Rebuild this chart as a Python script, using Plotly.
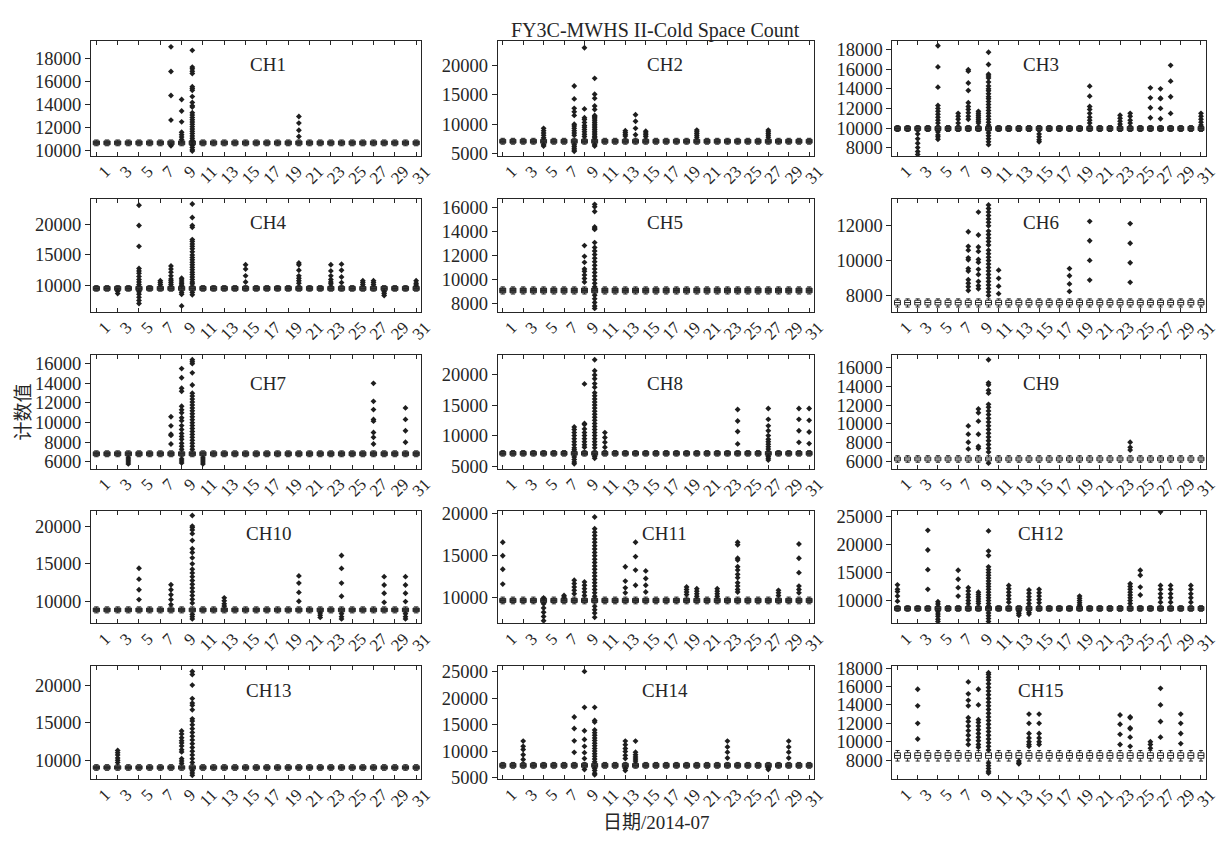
import plotly.graph_objects as go

# ---------------- data ----------------
DAYS = list(range(1, 32))
TICK_DAYS = list(range(1, 32, 2))
CHANNELS = [f"CH{i}" for i in range(1, 16)]

# per-channel box statistics (same for every day)
MEDIAN = [10700, 7100, 9950, 9550, 9100, 7590, 6830, 7100, 6250, 8900, 9700, 8600, 9000, 7300, 8500]
Q1 = [10530, 6770, 9750, 9230, 8900, 7450, 6630, 6800, 6050, 8650, 9450, 8250, 8800, 6930, 8200]
Q3 = [10870, 7430, 10150, 9870, 9300, 7720, 7030, 7400, 6450, 9150, 9950, 8950, 9250, 7670, 8800]
LOWF = [10450, 6600, 9650, 9100, 8800, 7330, 6530, 6650, 5900, 8500, 9300, 8100, 8650, 6750, 7900]
UPF = [10950, 7600, 10250, 10000, 9400, 7800, 7130, 7550, 6600, 9300, 10100, 9100, 9400, 7850, 9050]
BOX_VISIBLE = [False, False, False, False, False, True, False, False, True, False, False, False, False, False, True]

Y_LO = [9570, 4600, 7150, 5750, 7320, 7060, 5330, 4625, 5230, 7120, 6990, 5960, 7480, 4690, 5940]
Y_HI = [19480, 24100, 18850, 24100, 16740, 13540, 16900, 23200, 17400, 22050, 20350, 26000, 22480, 26050, 18180]
Y_TICKS = [
    [10000, 12000, 14000, 16000, 18000],
    [5000, 10000, 15000, 20000],
    [8000, 10000, 12000, 14000, 16000, 18000],
    [10000, 15000, 20000],
    [8000, 10000, 12000, 14000, 16000],
    [8000, 10000, 12000],
    [6000, 8000, 10000, 12000, 14000, 16000],
    [5000, 10000, 15000, 20000],
    [6000, 8000, 10000, 12000, 14000, 16000],
    [10000, 15000, 20000],
    [10000, 15000, 20000],
    [10000, 15000, 20000, 25000],
    [10000, 15000, 20000],
    [5000, 10000, 15000, 20000, 25000],
    [8000, 10000, 12000, 14000, 16000, 18000],
]

# outliers per channel: {day: [values]}
OUT_CH1 = {8: [19000, 16870, 14800, 12670, 10450],
           9: [14450, 13460, 12520, 11620, 11400, 11200, 11000],
           10: [18700, 17250, 17100, 16900, 16700, 15550, 15400, 15250, 14700, 14200, 13900, 13800, 13300,
                13100, 12900, 12700, 12500, 12300, 12100, 11900, 11700, 11500, 11300, 11100, 10900, 10500,
                10300, 10100, 10000],
           20: [12980, 12410, 11790, 11250]}
OUT_CH2 = {5: [9300, 8900, 8500, 8100, 7700, 6500, 6300],
           8: [16500, 14300, 12700, 12100, 11500, 10000, 9700, 9300, 8900, 8500, 8100, 6500, 6200, 5900, 5600, 5400],
           9: [23000, 12600, 11100, 10800, 10300, 9800, 9500, 9100, 8700, 8300, 7900],
           10: [17800, 15100, 14400, 13100, 12500, 11500, 11300, 11100, 10900, 10600, 10300, 10000, 9700, 9400,
                9100, 8800, 8500, 8200, 7900, 7700, 6500, 6300],
           13: [8900, 8600, 8300, 8000], 14: [11600, 10500, 9300, 8200], 15: [8800, 8500, 8200, 7900],
           20: [9000, 8700, 8400, 8100, 7800], 27: [9000, 8700, 8400, 8100, 7800]}
OUT_CH3 = {3: [9400, 8900, 8450, 8000, 7600, 7300],
           5: [18400, 16240, 14170, 12300, 12000, 11700, 11400, 11100, 10800, 10500, 9600, 9300, 9100, 8850],
           7: [11500, 11200, 10900, 10500],
           8: [15950, 15800, 14600, 13830, 12580, 12200, 11900, 11560, 11200, 10900],
           9: [11700, 11500, 11300, 11100, 10900, 10700, 10500],
           10: [17730, 16480, 15500, 15300, 15100, 14700, 14300, 14000, 13800, 13500, 13200, 13000, 12700, 12400,
                12100, 11800, 11500, 11200, 10900, 10600, 10300, 9500, 9200, 8900, 8600, 8300],
           15: [9400, 9100, 8800, 8600],
           20: [14270, 13250, 12200, 11900, 11500, 11100, 10800, 10500],
           23: [11300, 11000, 10700, 10400], 24: [11500, 11200, 10800, 10500],
           26: [14100, 13080, 12070, 11050], 27: [14000, 13050, 13000, 12000, 10950],
           28: [16400, 14780, 13190, 11490], 31: [11500, 11200, 10900, 10600, 10300]}
OUT_CH4 = {3: [9100, 8700],
           5: [23100, 19800, 16400, 12800, 12400, 12000, 11500, 11000, 10600, 10200, 9000, 8600, 8100, 7600, 7100],
           7: [10800, 10500, 10200],
           8: [13200, 12700, 12200, 11600, 11100, 10800, 10500, 10200],
           9: [11200, 10900, 10600, 10300, 10050, 8900, 8600, 6700],
           10: [23300, 21100, 19800, 19500, 17500, 17200, 16800, 16400, 16000, 15500, 15000, 14600, 14200, 13800,
                13400, 13000, 12600, 12200, 11800, 11400, 11000, 10600, 10300, 8900, 8500],
           15: [13400, 12700, 11600, 10600],
           20: [13700, 13400, 12500, 11600, 11200, 10800, 10400],
           23: [13400, 12400, 11600, 11000, 10600, 10300],
           24: [13500, 12500, 11400, 10500],
           26: [10800, 10500, 10200], 27: [10800, 10500, 10200], 28: [9000, 8700, 8400],
           31: [10800, 10400, 10100]}
OUT_CH5 = {9: [12850, 11950, 11450, 10900, 10700, 10400, 10100, 9800],
           10: [16300, 16100, 15700, 14400, 14300, 14200, 13100, 12700, 12400, 12100, 11800, 11500, 11200, 10900,
                10600, 10300, 10000, 9700, 9400, 8700, 8400, 8100, 7800, 7600]}
OUT_CH6 = {8: [11660, 10820, 10600, 10160, 10050, 9540, 9400, 8900, 8700, 8500, 8280],
           9: [12790, 11470, 10780, 10530, 10070, 9900, 9500, 9200, 8800, 8560, 8380],
           10: [13200, 13000, 12800, 12600, 12400, 12200, 12000, 11700, 11500, 11300, 11100, 10900, 10600, 10400,
                10200, 10000, 9800, 9600, 9400, 9200, 9000, 8800, 8600, 8400, 8200, 8000],
           11: [9450, 8980, 8530, 8100], 18: [9540, 9130, 8660, 8230],
           20: [12260, 11140, 10010, 8880], 24: [12130, 11000, 9880, 8750]}
OUT_CH7 = {4: [6400, 6200, 6000, 5800],
           8: [10600, 9670, 8830, 8700, 7830],
           9: [15500, 14570, 13500, 13200, 11670, 11300, 11000, 10500, 10200, 9700, 9300, 8900, 8600, 8300, 7900,
               7600, 7300, 6300, 6100, 5900],
           10: [16400, 16200, 16000, 15070, 13830, 13000, 12700, 12400, 12100, 11800, 11500, 11200, 10900, 10600,
                10300, 10000, 9700, 9400, 9100, 8800, 8500, 8200, 7900, 7600, 7300],
           11: [6400, 6200, 6000, 5800],
           27: [14000, 12170, 11330, 10330, 10150, 9000, 8500, 7830],
           30: [11500, 10330, 9170, 8000]}
OUT_CH8 = {8: [11400, 11000, 10500, 10000, 9500, 9000, 8500, 8000, 7700, 6500, 6100, 5700, 5400],
           9: [18450, 12000, 11800, 11100, 10500, 10000, 9500, 9000, 8500, 8100],
           10: [22400, 20600, 19900, 19300, 18500, 17900, 17000, 16500, 16000, 15500, 15000, 14500, 14000, 13500,
                13000, 12500, 12000, 11500, 11000, 10500, 10000, 9500, 9000, 8500, 8000, 6600, 6300],
           11: [10500, 9700, 8900, 8100],
           24: [14270, 12390, 10680, 8640],
           27: [14430, 12660, 11600, 10800, 10000, 9400, 9000, 8600, 8200, 7800, 6600, 6300, 6000],
           30: [14430, 12660, 10800, 8900], 31: [14430, 12500, 10600, 8700]}
OUT_CH9 = {8: [9790, 8910, 8040, 7330],
           9: [11600, 11190, 10300, 8900, 7600, 7400],
           10: [16880, 14400, 14200, 13600, 13300, 12100, 11800, 11400, 11000, 10600, 10200, 9800, 9400, 9000,
                8600, 8200, 7800, 7400, 7000, 5800],
           24: [8040, 7500, 7200]}
OUT_CH10 = {5: [14410, 12970, 11570, 10260],
            8: [12230, 11570, 10900, 10260, 9600],
            10: [21400, 20000, 19800, 19500, 19000, 18100, 17000, 16500, 15800, 15000, 14300, 13800, 13300, 12800,
                 12300, 11800, 11300, 10800, 10300, 9800, 8300, 8000, 7700],
            13: [10500, 10100, 9700, 9400],
            20: [13400, 12450, 11220, 10040],
            22: [8500, 8200, 7900],
            24: [16100, 14400, 12450, 10700, 8400, 8000, 7700],
            28: [13300, 12200, 11100, 9900],
            30: [13300, 12200, 11100, 10000, 8400, 8000, 7700]}
OUT_CH11 = {1: [16600, 15000, 13400, 11640],
            5: [10000, 9300, 8800, 8300, 7800, 7300],
            7: [10300, 10100],
            8: [12100, 11700, 11300, 10900, 10500],
            9: [11900, 11500, 11100, 10700, 10300],
            10: [19600, 18200, 17800, 17400, 17000, 16600, 16200, 15800, 15400, 15000, 14600, 14200, 13800, 13400,
                 13000, 12600, 12200, 11800, 11400, 11000, 10600, 10200, 9000, 8600, 8200, 7700],
            13: [13700, 12000, 11200, 10600],
            14: [16600, 14900, 13300, 11500],
            15: [13200, 12300, 11500, 10700],
            19: [11300, 11000, 10700, 10400], 20: [11100, 10800, 10500, 10200], 22: [11100, 10800, 10500, 10200],
            24: [16600, 16300, 14700, 14500, 13700, 13300, 12800, 12400, 11800, 11400, 11000, 10700],
            28: [10900, 10600, 10300],
            30: [16400, 14700, 13000, 11400, 11000, 10600]}
OUT_CH12 = {1: [12800, 12000, 11600, 10800, 9900],
            4: [22500, 19000, 15500, 12000],
            5: [9800, 9400, 8000, 7600, 7200, 6700, 6300],
            7: [15400, 13800, 12300, 10800],
            8: [12300, 11700, 11100, 10600, 10000, 9500],
            9: [11500, 11100, 10700, 10300, 9900, 9500],
            10: [22400, 18800, 18000, 16000, 15500, 15000, 14500, 14000, 13500, 13000, 12500, 12000, 11500, 11000,
                 10500, 10000, 9500, 9000, 7800, 7300, 6800, 6300],
            12: [12700, 12100, 11500, 10900, 10300, 9700],
            13: [8000, 7700, 7400],
            14: [11900, 11300, 10700, 10100, 9500, 7900, 7600],
            15: [12000, 11400, 10800, 10200, 9600],
            19: [10800, 10400, 10000, 9600, 9200],
            24: [13000, 12500, 12000, 11500, 11000, 10500, 10000, 9500],
            25: [15400, 14500, 12400, 11000],
            27: [25800, 12700, 12000, 11200, 10500, 9700],
            28: [12700, 12000, 11200, 10500, 9700],
            30: [12700, 12000, 11200, 10500, 9700]}
OUT_CH13 = {3: [11300, 11000, 10700, 10300, 10000, 9700],
            9: [13900, 13500, 13000, 12600, 12300, 11900, 11400, 11100, 10200, 9900, 9600],
            10: [21800, 21400, 20000, 18200, 17600, 17300, 16700, 15500, 15200, 14700, 14200, 13700, 13200, 12700,
                 12200, 11700, 11200, 10700, 10200, 9700, 8600, 8300, 8000]}
OUT_CH14 = {3: [11900, 10900, 10300, 9300, 8400],
            8: [16460, 14290, 11940, 9770],
            9: [25100, 18300, 13850, 12200, 10900, 9700, 8600, 6500],
            10: [18300, 15800, 15500, 14000, 13500, 13000, 12500, 12000, 11500, 11000, 10500, 10000, 9500, 9000,
                 8500, 8000, 6700, 6300, 5800, 5500],
            13: [11900, 11200, 10500, 9900, 9200, 8600, 6700, 6300],
            14: [11900, 9800, 9300, 8900, 8500, 8100],
            23: [11900, 10800, 9800, 8700],
            27: [6800, 6500],
            29: [11900, 10800, 9800, 8700]}
OUT_CH15 = {3: [15700, 13900, 12000, 10300],
            8: [16500, 15200, 14500, 13900, 12600, 12200, 11700, 11200, 10700, 10200, 9700],
            9: [15700, 14000, 12400, 12100, 11700, 11300, 10900, 10500, 10100, 9700, 9400],
            10: [17500, 17300, 17000, 16700, 16300, 15900, 15500, 15100, 14700, 14300, 13900, 13500, 13100, 12700,
                 12300, 11900, 11500, 11100, 10700, 10300, 9900, 9500, 9100, 7700, 7400, 7100, 6800, 6600],
            13: [7900, 7700, 7600],
            14: [13000, 12000, 10900, 10400, 10000, 9700, 9500],
            15: [13000, 12000, 10900, 10400, 10000, 9700],
            23: [12900, 11900, 10800, 9700],
            24: [12700, 12600, 11500, 11400, 10500, 9500],
            26: [10000, 9700, 9300],
            27: [15800, 14000, 12200, 10500],
            29: [13000, 12000, 10900, 9800]}
OUTLIERS = [OUT_CH1, OUT_CH2, OUT_CH3, OUT_CH4, OUT_CH5, OUT_CH6, OUT_CH7, OUT_CH8, OUT_CH9, OUT_CH10,
            OUT_CH11, OUT_CH12, OUT_CH13, OUT_CH14, OUT_CH15]

TITLE = "FY3C-MWHS II-Cold Space Count"
X_TITLE = "日期/2014-07"
Y_TITLE = "计数值"

# ---------------- layout geometry (pixels) ----------------
W, H = 1223, 842
COL_X = [(92, 426), (503, 823), (902, 1219)]
ROW_Y = [(34, 151), (195, 310), (354, 470), (513, 628), (672, 787)]
LABEL_X = [271, 672, 1052]
LABEL_DY = [24, 24, 29, 23, 25]

FONT = "Liberation Serif, Times New Roman, serif"
CJK = "Noto Sans CJK SC, sans-serif"
INK = "#262626"

fig = go.Figure()
layout = dict(
    width=W, height=H, margin=dict(l=0, r=0, t=0, b=0),
    paper_bgcolor="white", plot_bgcolor="white", showlegend=False,
    font=dict(family=FONT, size=18, color=INK),
)
annotations = []

for k in range(15):
    n = k + 1
    r, c = divmod(k, 3)
    xs = "" if n == 1 else str(n)
    xname, yname = "x" + xs, "y" + xs
    x0, x1 = COL_X[c]
    yt, yb = ROW_Y[r]
    xdom = [x0 / W, x1 / W]
    ydom = [1 - yb / H, 1 - yt / H]

    nd = len(DAYS)
    fig.add_trace(go.Box(
        x=DAYS, q1=[Q1[k]] * nd, median=[MEDIAN[k]] * nd, q3=[Q3[k]] * nd,
        lowerfence=[LOWF[k]] * nd, upperfence=[UPF[k]] * nd,
        xaxis=xname, yaxis=yname, width=0.58, whiskerwidth=0.7, boxpoints=False,
        line=dict(color=INK, width=1),
        fillcolor="white" if BOX_VISIBLE[k] else "#3a3a3a",
        hoverinfo="skip",
    ))
    ox, oy = [], []
    for d, vals in OUTLIERS[k].items():
        for v in vals:
            ox.append(d)
            oy.append(v)
    fig.add_trace(go.Scatter(
        x=ox, y=oy, mode="markers", xaxis=xname, yaxis=yname,
        marker=dict(symbol="diamond", size=4.5, color="#1e1e1e", line=dict(width=0)),
        hoverinfo="skip",
    ))

    layout["xaxis" + xs] = dict(
        domain=xdom, anchor=yname, range=[0.5, 31.5],
        tickmode="array", tickvals=TICK_DAYS, ticktext=[str(t) for t in TICK_DAYS],
        tickangle=-45, ticks="inside", ticklen=4, tickcolor=INK,
        showline=True, linecolor=INK, linewidth=1, mirror="ticks",
        showgrid=False, zeroline=False,
        tickfont=dict(family=FONT, size=17, color=INK),
        ticklabelshift=9, ticklabelstandoff=-2,
    )
    layout["yaxis" + xs] = dict(
        domain=ydom, anchor=xname, range=[Y_LO[k], Y_HI[k]],
        tickmode="array", tickvals=Y_TICKS[k], ticktext=[str(t) for t in Y_TICKS[k]],
        ticks="outside", ticklen=5, tickcolor=INK,
        showline=True, linecolor=INK, linewidth=1, mirror=True,
        showgrid=False, zeroline=False,
        tickfont=dict(family=FONT, size=18.5, color=INK),
    )
    # right-hand inward ticks
    layout["yaxis" + str(n + 15)] = dict(
        overlaying=yname, side="right", anchor=xname, range=[Y_LO[k], Y_HI[k]],
        tickmode="array", tickvals=Y_TICKS[k], ticks="inside", ticklen=4, tickcolor=INK,
        showticklabels=False, showline=False, showgrid=False, zeroline=False,
    )
    annotations.append(dict(
        text=CHANNELS[k], xref="paper", yref="paper",
        x=LABEL_X[c] / W, y=1 - (yt + LABEL_DY[r]) / H,
        showarrow=False, xanchor="center", yanchor="middle",
        font=dict(family=FONT, size=19, color=INK),
    ))

annotations.append(dict(text=TITLE, xref="paper", yref="paper", x=663 / W, y=1 - 23 / H,
                        showarrow=False, xanchor="center", yanchor="middle",
                        font=dict(family=FONT, size=20, color=INK)))
annotations.append(dict(text=X_TITLE, xref="paper", yref="paper", x=664 / W, y=1 - 831 / H,
                        showarrow=False, xanchor="center", yanchor="middle",
                        font=dict(family=FONT + ", " + CJK, size=19, color=INK)))
annotations.append(dict(text=Y_TITLE, xref="paper", yref="paper", x=22 / W, y=1 - 412 / H,
                        showarrow=False, xanchor="center", yanchor="middle", textangle=-90,
                        font=dict(family=CJK, size=19, color=INK)))
layout["annotations"] = annotations
fig.update_layout(**layout)
fig.write_html("out.html")
